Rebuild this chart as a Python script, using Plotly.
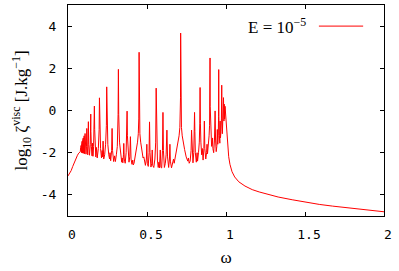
import plotly.graph_objects as go

# (omega, log10 zeta_visc) points, in segments
rise = [(0.000, -3.10), (0.010, -3.00), (0.020, -2.85), (0.030, -2.65), (0.040, -2.45),
        (0.050, -2.28), (0.060, -2.12), (0.068, -2.02), (0.075, -1.97)]

resonances_low = [
    (0.078, -1.95), (0.080, -1.75), (0.0815, -2.0), (0.0835, -1.65), (0.085, -2.0),
    (0.0865, -1.55), (0.088, -2.0), (0.090, -1.45), (0.0915, -2.02), (0.093, -1.37),
    (0.095, -2.02), (0.097, -1.3), (0.099, -2.03), (0.102, -1.2), (0.105, -2.05),
    (0.108, -1.09), (0.111, -1.8), (0.114, -2.07), (0.117, -1.7), (0.119, -0.85),
    (0.121, -1.7), (0.125, -2.1), (0.127, -1.6), (0.129, -0.53), (0.131, -1.6),
    (0.136, -2.12), (0.141, -1.6), (0.143, -1.0), (0.144, -0.17), (0.145, -1.0),
    (0.148, -1.7), (0.152, -2.15), (0.155, -1.55), (0.158, -2.17), (0.162, -1.7),
    (0.165, -0.9), (0.167, 0.21), (0.169, -0.9), (0.172, -1.7), (0.176, -2.2),
    (0.180, -1.75), (0.185, -2.25), (0.192, -1.8), (0.197, -0.9), (0.199, 0.60),
    (0.201, -0.9), (0.206, -1.8), (0.212, -2.25), (0.216, -1.9), (0.219, -2.2),
    (0.222, -1.45), (0.226, -2.3), (0.232, -2.1), (0.238, -1.6), (0.243, -0.7),
    (0.245, 1.12), (0.247, -0.7), (0.252, -1.6), (0.258, -2.1), (0.263, -2.3),
    (0.266, -2.0), (0.270, -2.38), (0.276, -1.9), (0.279, -0.85), (0.282, -1.9),
    (0.289, -2.42), (0.295, -2.15), (0.300, -2.42), (0.306, -2.1), (0.312, -1.7),
    (0.317, -0.2), (0.319, 1.95), (0.321, -0.2), (0.326, -1.5), (0.331, -2.0),
    (0.336, -2.2), (0.340, -2.45), (0.343, -2.25), (0.347, -2.48), (0.351, -2.1),
    (0.353, -1.56), (0.356, -2.3), (0.362, -2.5), (0.368, -2.0), (0.372, -1.2),
    (0.374, -0.03), (0.376, -1.2), (0.380, -2.0), (0.386, -2.45), (0.391, -2.2),
    (0.395, -1.24), (0.399, -2.3), (0.405, -2.55), (0.410, -2.35), (0.413, -2.58),
]

resonances_mid = [
    (0.418, -2.5), (0.425, -2.2), (0.434, -1.9), (0.440, -1.5), (0.445, -1.1),
    (0.448, -0.4), (0.450, 2.76), (0.452, -0.4), (0.455, -1.1), (0.460, -1.5),
    (0.466, -1.9), (0.475, -2.25), (0.480, -2.2), (0.485, -2.45), (0.490, -2.6),
    (0.496, -2.3), (0.499, -1.60), (0.502, -2.5), (0.508, -2.65), (0.513, -2.0),
    (0.516, -0.54), (0.519, -2.0), (0.525, -2.68), (0.530, -2.5), (0.533, -1.87),
    (0.536, -2.6), (0.543, -2.7), (0.550, -2.3), (0.555, -1.5), (0.558, 1.06),
    (0.561, -1.5), (0.566, -2.35), (0.571, -2.7), (0.575, -2.45), (0.579, -2.72),
    (0.584, -1.87), (0.588, -2.7), (0.593, -2.72), (0.598, -1.9), (0.601, -0.09),
    (0.604, -1.9), (0.610, -2.7), (0.616, -2.5), (0.621, -2.1), (0.626, -0.93),
    (0.630, -2.2), (0.637, -2.7), (0.642, -2.3), (0.645, -1.60), (0.648, -2.4),
    (0.655, -2.72), (0.662, -2.55), (0.668, -2.3), (0.672, -2.5), (0.680, -2.2),
    (0.688, -1.85), (0.697, -1.55), (0.703, -1.2), (0.708, -0.8), (0.711, -0.2),
    (0.712, 0.6), (0.713, 3.67), (0.714, 0.6), (0.715, -0.2), (0.718, -0.8),
    (0.723, -1.2), (0.729, -1.55), (0.738, -1.85), (0.748, -2.2), (0.758, -2.4),
    (0.762, -2.25), (0.767, -2.5),
]

resonances_high = [
    (0.773, -2.4), (0.779, -1.9), (0.782, -0.93), (0.785, -1.9), (0.791, -2.48),
    (0.796, -2.0), (0.799, -1.0), (0.801, -0.09), (0.803, -1.0), (0.806, -2.0),
    (0.812, -2.45), (0.817, -2.0), (0.820, -2.4), (0.826, -2.0), (0.831, -1.5),
    (0.834, -0.6), (0.836, 1.09), (0.838, -0.6), (0.841, -1.5), (0.846, -2.1),
    (0.850, -1.8), (0.855, -2.35), (0.860, -1.8), (0.863, -0.50), (0.866, -1.8),
    (0.872, -2.3), (0.877, -2.0), (0.880, -1.6), (0.883, -2.05), (0.888, -1.7),
    (0.893, -1.2), (0.896, -0.7), (0.898, 0.2), (0.899, 2.49), (0.900, 0.2),
    (0.902, -0.7), (0.905, -1.2), (0.909, -1.7), (0.913, -1.6), (0.915, -1.3),
    (0.917, -1.8), (0.922, -2.0), (0.927, -1.4), (0.931, -0.02), (0.934, -1.4),
    (0.938, -1.95), (0.942, -1.7), (0.945, -0.9), (0.948, -1.6), (0.951, -1.2),
    (0.953, -0.3), (0.954, 1.94), (0.955, -0.3), (0.958, -1.2), (0.961, -1.55),
    (0.963, -0.5), (0.965, -1.3), (0.968, -1.0), (0.971, -0.4), (0.973, 1.20),
    (0.975, -0.4), (0.977, -1.1), (0.979, 0.1), (0.981, -0.8), (0.984, 0.61),
    (0.987, -0.5), (0.989, 0.3), (0.991, -0.4), (0.994, 0.2), (0.997, -0.15),
]

tail = [(1.000, -0.60), (1.004, -1.20), (1.010, -1.80), (1.017, -2.19), (1.025, -2.55),
        (1.038, -2.90), (1.055, -3.15), (1.081, -3.38), (1.120, -3.58), (1.166, -3.75),
        (1.210, -3.86), (1.250, -3.95), (1.330, -4.10), (1.419, -4.23), (1.504, -4.35),
        (1.590, -4.45), (1.673, -4.53), (1.760, -4.60), (1.842, -4.67), (1.920, -4.74),
        (2.000, -4.80)]

x_ticks = [0, 0.5, 1, 1.5, 2]
x_ticklabels = ["0", "0.5", "1", "1.5", "2"]
y_ticks = [-4, -2, 0, 2, 4]
y_ticklabels = ["-4", "-2", "0", "2", "4"]

points = rise + resonances_low + resonances_mid + resonances_high + tail
omega = [p[0] for p in points]
logz = [p[1] for p in points]

fig = go.Figure()
fig.add_trace(go.Scatter(x=omega, y=logz, mode="lines",
                         line=dict(color="#ff0000", width=1),
                         name="E = 10<sup>−5</sup>", showlegend=False))

serif = "Liberation Serif"
mono = "DejaVu Sans Mono"

fig.update_layout(
    width=399, height=271,
    margin=dict(l=68, r=15, t=5, b=55),
    paper_bgcolor="white", plot_bgcolor="white",
    showlegend=False,
)
fig.update_xaxes(
    range=[0, 2], tickvals=x_ticks, ticktext=x_ticklabels,
    showgrid=False, zeroline=False, automargin=False,
    showline=True, linecolor="black", linewidth=1, mirror="ticks",
    ticks="inside", ticklen=4, tickcolor="black",
    tickfont=dict(family=mono, size=13, color="black"),
    ticklabelshift=4, ticklabelstandoff=6,
    title=dict(text="ω", font=dict(family=serif, size=17, color="black"), standoff=10),
)
fig.update_yaxes(
    range=[-5, 5], tickvals=y_ticks, ticktext=y_ticklabels,
    showgrid=False, zeroline=False, automargin=False,
    showline=True, linecolor="black", linewidth=1, mirror="ticks",
    ticks="inside", ticklen=4, tickcolor="black",
    tickfont=dict(family=mono, size=13, color="black"),
    ticklabelstandoff=8,
    title=dict(text="log<sub>10</sub> ζ<sup>visc</sup> [J.kg<sup>−1</sup>]",
               font=dict(family=serif, size=17, color="black"), standoff=8),
)

# legend drawn gnuplot-style: text followed by line sample
fig.add_annotation(xref="paper", yref="paper", x=0.76, y=0.90,
                   xanchor="right", yanchor="middle", showarrow=False,
                   text="E = 10<sup>−5</sup>",
                   font=dict(family=serif, size=17, color="black"))
fig.add_shape(type="line", xref="paper", yref="paper",
              x0=0.794, x1=0.934, y0=0.90, y1=0.90,
              line=dict(color="#ff0000", width=1))

fig.write_html("out.html", config={"displayModeBar": False},
               post_script="document.body.style.margin='0';document.body.style.overflow='hidden';")
